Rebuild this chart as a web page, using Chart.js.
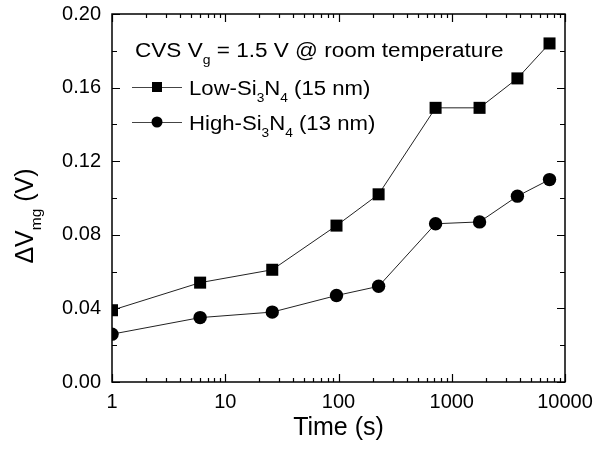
<!DOCTYPE html>
<html><head><meta charset="utf-8">
<script src="https://cdn.jsdelivr.net/npm/chart.js@4/dist/chart.umd.min.js"></script>
<style>html,body{margin:0;padding:0;background:#fff}#wrap{width:596px;height:453px}</style>
</head><body><div id="wrap"><canvas id="c" width="596" height="453"></canvas></div>
<script>
// ---- data ----
const times = [1, 6, 26, 96, 226, 720, 1760, 3800, 7300];
const lowSiN = [0.039, 0.054, 0.061, 0.085, 0.102, 0.149, 0.149, 0.165, 0.184];
const highSiN = [0.026, 0.035, 0.038, 0.047, 0.052, 0.086, 0.087, 0.101, 0.110];
const xTickLabels = [1, 10, 100, 1000, 10000];
const yTickLabels = [0, 0.04, 0.08, 0.12, 0.16, 0.20];
const seriesNames = ['Low-Si3N4 (15 nm)', 'High-Si3N4 (13 nm)'];

const FONT = '"Liberation Sans", Arial, Helvetica, sans-serif';
const xTickValues = [];
for (let d = 0; d < 4; d++) for (let k = 1; k < 10; k++) xTickValues.push(k * Math.pow(10, d));
xTickValues.push(10000);

function isYMajor(v) { return yTickLabels.some(t => Math.abs(t - v) < 1e-9); }

function drawRich(ctx, parts, size, sx) {
  ctx.save();
  ctx.scale(sx, 1);
  let cx = 0;
  parts.forEach(([t, k]) => {
    const fs = k === 's' ? size * 0.62 : size;
    ctx.font = fs + 'px ' + FONT;
    ctx.fillText(t, cx, k === 's' ? size * 0.32 : 0);
    cx += ctx.measureText(t).width;
  });
  ctx.restore();
}
function richWidth(ctx, parts, size, sx) {
  let w = 0;
  parts.forEach(([t, k]) => {
    ctx.font = (k === 's' ? size * 0.62 : size) + 'px ' + FONT;
    w += ctx.measureText(t).width;
  });
  return w * sx;
}

const framePlugin = {
  id: 'frame',
  afterDraw(chart) {
    const { ctx, chartArea: a, scales: { x, y } } = chart;
    ctx.save();
    ctx.strokeStyle = '#000';
    ctx.lineWidth = 1.5;
    ctx.strokeRect(a.left, a.top, a.right - a.left, a.bottom - a.top);
    ctx.lineWidth = 1.2;
    ctx.beginPath();
    xTickValues.forEach(v => {
      const px = Math.round(x.getPixelForValue(v)) + 0.5;
      const len = xTickLabels.includes(v) ? 8 : 4;
      ctx.moveTo(px, a.bottom); ctx.lineTo(px, a.bottom - len);
      ctx.moveTo(px, a.top); ctx.lineTo(px, a.top + len);
    });
    y.ticks.forEach(t => {
      const py = Math.round(y.getPixelForValue(t.value)) + 0.5;
      const len = isYMajor(t.value) ? 8 : 5;
      ctx.moveTo(a.left, py); ctx.lineTo(a.left + len, py);
      ctx.moveTo(a.right, py); ctx.lineTo(a.right - len, py);
    });
    ctx.stroke();

    // y axis title with subscript
    ctx.fillStyle = '#000';
    ctx.textBaseline = 'alphabetic';
    const yParts = [['\u0394V', 'n'], ['mg', 's'], [' (V)', 'n']];
    const yw = richWidth(ctx, yParts, 25, 1);
    ctx.save();
    ctx.translate(33, 216 + yw / 2);
    ctx.rotate(-Math.PI / 2);
    drawRich(ctx, yParts, 25, 1);
    ctx.restore();

    // annotation
    const L = a.left;
    ctx.save();
    ctx.translate(L + 23, 57);
    drawRich(ctx, [['CVS V', 'n'], ['g', 's'], [' = 1.5 V @ room temperature', 'n']], 20.5, 1.1);
    ctx.restore();

    // legend
    const legendRows = [
      { y: 87, style: 'rect', parts: [['Low-Si', 'n'], ['3', 's'], ['N', 'n'], ['4', 's'], [' (15 nm)', 'n']] },
      { y: 122, style: 'circle', parts: [['High-Si', 'n'], ['3', 's'], ['N', 'n'], ['4', 's'], [' (13 nm)', 'n']] }
    ];
    legendRows.forEach(r => {
      ctx.strokeStyle = '#444';
      ctx.lineWidth = 1;
      ctx.beginPath();
      ctx.moveTo(L + 20, r.y + 0.5); ctx.lineTo(L + 70, r.y + 0.5);
      ctx.stroke();
      ctx.fillStyle = '#000';
      if (r.style === 'rect') ctx.fillRect(L + 45 - 5, r.y - 5, 10, 10);
      else { ctx.beginPath(); ctx.arc(L + 45, r.y, 5.5, 0, Math.PI * 2); ctx.fill(); }
      ctx.save();
      ctx.translate(L + 77, r.y + 8);
      drawRich(ctx, r.parts, 20.5, 1.08);
      ctx.restore();
    });
    ctx.restore();
  }
};

const ctx = document.getElementById('c').getContext('2d');
new Chart(ctx, {
  type: 'line',
  data: {
    datasets: [
      {
        label: seriesNames[0],
        data: times.map((t, i) => ({ x: t, y: lowSiN[i] })),
        borderColor: '#222', borderWidth: 1,
        pointStyle: 'rect', pointRadius: 8.5, pointHoverRadius: 8.5,
        pointBackgroundColor: '#000', pointBorderColor: '#000', pointBorderWidth: 0,
        tension: 0
      },
      {
        label: seriesNames[1],
        data: times.map((t, i) => ({ x: t, y: highSiN[i] })),
        borderColor: '#222', borderWidth: 1,
        pointStyle: 'circle', pointRadius: 6.7, pointHoverRadius: 6.7,
        pointBackgroundColor: '#000', pointBorderColor: '#000', pointBorderWidth: 0,
        tension: 0
      }
    ]
  },
  options: {
    responsive: false,
    animation: false,
    devicePixelRatio: 1,
    layout: { padding: { top: 14, right: 31, left: 0, bottom: 0 } },
    plugins: { legend: { display: false }, tooltip: { enabled: false } },
    scales: {
      x: {
        type: 'logarithmic', min: 1, max: 10000,
        grid: { display: false, drawTicks: false },
        border: { display: false },
        afterBuildTicks: s => { s.ticks = xTickValues.map(v => ({ value: v })); },
        afterFit: s => { s.height = 71; s.paddingLeft = 0; s.paddingRight = 0; },
        ticks: {
          autoSkip: false, maxRotation: 0, padding: 8, color: '#000',
          font: { size: 20, family: FONT },
          callback: v => xTickLabels.includes(v) ? String(v) : ''
        },
        title: { display: true, text: 'Time (s)', color: '#000', font: { size: 25, family: FONT }, padding: { top: 0, bottom: 10 } }
      },
      y: {
        type: 'linear', min: 0, max: 0.2,
        grid: { display: false, drawTicks: false },
        border: { display: false },
        afterFit: s => { s.width = 112; s.paddingTop = 0; s.paddingBottom = 0; },
        ticks: {
          stepSize: 0.02, autoSkip: false, padding: 11, color: '#000',
          font: { size: 20, family: FONT },
          callback: v => isYMajor(v) ? v.toFixed(2) : ''
        }
      }
    }
  },
  plugins: [framePlugin]
});
</script></body></html>
